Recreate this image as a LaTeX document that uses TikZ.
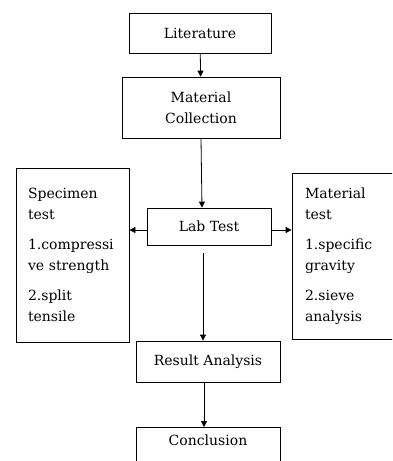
\documentclass[tikz,border=0pt]{standalone}
\usepackage{fontspec}
\setmainfont{DejaVu Serif}
\usepackage{tikz}
\usetikzlibrary{arrows,arrows.meta}

\tikzset{
	box/.style={draw, line width=0.8pt, inner sep=0pt, align=center,
		font=\fontsize{14}{21}\selectfont},
	listbox/.style={box, align=left, inner xsep=12pt},
	arr/.style={line width=0.8pt, -{Triangle[length=6pt,width=6pt]}}
}

\begin{document}
\begin{tikzpicture}[x=1pt, y=-1pt]
	\useasboundingbox (0,0) rectangle (392,461);
	\clip (0,0) rectangle (392,461);
	\node[box, minimum width=142pt, minimum height=40pt] (lit) at (200,33) {Literature};
	\node[box, minimum width=158pt, minimum height=61pt] (coll) at (201,107.5) {Material\\Collection};
	\node[box, minimum width=124pt, minimum height=37pt] (lab) at (209,226.5) {Lab Test};
	\node[listbox, text width=89pt, minimum height=174pt] (spec) at (72.5,255)
		{Specimen\\test\\[9pt]1.compressi\\ve strength\\[9pt]2.split\\tensile};
	\node[listbox, inner xsep=13pt, text width=82pt, minimum height=166pt] (mat) at (346,256)
		{Material\\test\\[9pt]1.specific\\gravity\\[9pt]2.sieve\\analysis};
	\node[box, minimum width=144pt, minimum height=41pt] (res) at (208,361.5) {Result Analysis};
	\node[box, minimum width=144pt, anchor=north, inner ysep=7pt, text depth=22pt] (conc) at (208,427) {Conclusion};
	\draw[arr] (lit) -- (coll);
	\draw[arr] (coll.south) -- ([xshift=-7pt]lab.north);
	\draw[arr] (lab.west |- 0,230) -- (spec.east |- 0,230);
	\draw[arr] (lab.east |- 0,230) -- (mat.west |- 0,230);
	\draw[arr] ([shift={(-6pt,-8pt)}]lab.south) -- ([xshift=-5pt]res.north);
	\draw[arr] ([xshift=-4pt]res.south) -- ([xshift=-4pt]conc.north);
\end{tikzpicture}
\end{document}
